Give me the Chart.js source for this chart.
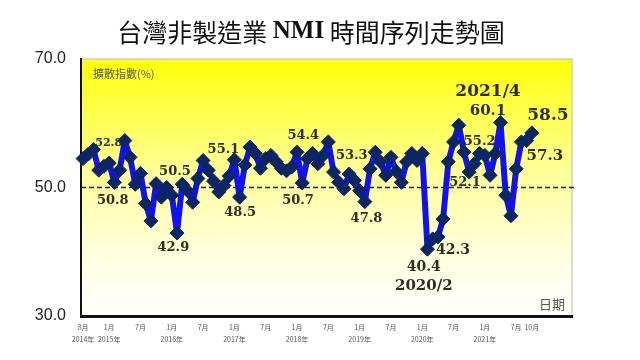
<!DOCTYPE html>
<html>
<head>
<meta charset="utf-8">
<script src="https://cdn.jsdelivr.net/npm/chart.js@4/dist/chart.umd.min.js"></script>
<style>
html,body{margin:0;padding:0;background:#fff;}
#wrap{width:640px;height:360px;position:relative;}
</style>
</head>
<body>
<div id="wrap"><canvas id="c" width="640" height="360"></canvas></div>
<script>
// ---- data (monthly NMI, 2014/8 .. 2021/10) ----
const startYear = 2014, startMonth = 8;
const nmiValues = [
  54.5,55.2,55.9,52.7,53.3,53.8,50.8,52.7,57.3,54.7,
  50.5,52.2,47.5,44.8,50.6,48.5,50.0,48.8,42.9,50.5,
  49.5,47.7,51.4,54.2,52.7,51.0,49.3,50.3,51.8,54.3,
  48.5,53.5,56.3,55.3,53.0,54.5,55.0,54.0,53.0,52.6,
  53.2,55.5,50.7,54.5,55.3,53.7,55.0,57.1,52.4,50.8,
  49.8,52.1,51.1,49.5,47.8,52.9,55.5,54.0,51.9,54.7,
  52.5,50.8,54.0,55.3,54.2,55.3,40.4,42.0,42.3,45.1,
  54.0,57.1,59.7,55.5,52.4,53.7,55.3,55.0,51.9,55.3,
  60.1,48.8,45.6,52.9,57.1,57.3,58.5
];
const months = nmiValues.map((v, i) => {
  const m = startMonth - 1 + i;
  return (startYear + Math.floor(m / 12)) + '/' + (m % 12 + 1);
});

// x tick labels (month index, month text, year text)
const tickIndex = [0,5,11,17,23,29,35,41,47,53,59,65,71,77,83,86];
const tickMonth = ['8月','1月','7月','1月','7月','1月','7月','1月','7月','1月','7月','1月','7月','1月','7月','10月'];
const tickYear  = ['2014年','2015年','','2016年','','2017年','','2018年','','2019年','','2020年','','2021年','',''];

// y ticks
const yMin = 30, yMax = 70, yStep = 20, refLine = 50;

// annotation texts and where they sit (month index, value units)
const noteText = ['52.8','50.8','50.5','42.9','55.1','48.5','54.4','50.7','53.3','47.8','40.4','2020/2','42.3','52.1','55.2','2021/4','60.1','58.5','57.3'];
const noteX    = [4.9,5.7,17.6,17.3,26.9,30.1,42.2,41.2,51.5,54.3,65.3,65.3,70.9,73.2,76.0,77.6,77.6,89.1,88.5];
const noteY    = [56.9,48.0,52.4,40.7,55.9,46.1,58.1,48.0,55.0,45.1,37.5,34.7,40.2,50.8,57.1,64.9,61.9,61.2,54.9];
const noteSize = [11,13,13,13,13,13,13,13,13,13,14,15,14,13,13,17,15,17,15];

const titleParts = ['台灣非製造業 ', 'NMI', ' 時間序列走勢圖'];

const points = nmiValues.map((v, i) => ({x: i, y: v}));

const decor = {
  id: 'decor',
  beforeDraw(chart) {
    const {ctx, chartArea: a} = chart;
    const g = ctx.createLinearGradient(0, a.top, 0, a.bottom);
    g.addColorStop(0, '#FFFF08');
    g.addColorStop(0.45, '#FFFF9C');
    g.addColorStop(0.8, '#FFFFE6');
    g.addColorStop(1, '#FFFFFF');
    ctx.save();
    ctx.fillStyle = g;
    ctx.fillRect(a.left, a.top, a.right - a.left, a.bottom - a.top);
    ctx.strokeStyle = '#d0d0c0';
    ctx.lineWidth = 1.5;
    ctx.beginPath();
    ctx.moveTo(a.left, a.top); ctx.lineTo(a.right, a.top); ctx.lineTo(a.right, a.bottom);
    ctx.stroke();
    const fonts = ['25px "Noto Sans CJK TC"', 'bold 25px "Liberation Serif"', '25px "Noto Sans CJK TC"'];
    let w = 0;
    const ws = titleParts.map((t, k) => { ctx.font = fonts[k]; const m = ctx.measureText(t).width; w += m; return m; });
    let x = 311 - w / 2;
    ctx.fillStyle = '#111';
    ctx.textBaseline = 'middle';
    titleParts.forEach((t, k) => { ctx.font = fonts[k]; ctx.fillText(t, x, 32); x += ws[k]; });
    ctx.restore();
  },
  beforeDatasetsDraw(chart) {
    const {ctx, chartArea: a, scales: {y}} = chart;
    const py = y.getPixelForValue(refLine);
    ctx.save();
    ctx.strokeStyle = '#222';
    ctx.lineWidth = 1.5;
    ctx.setLineDash([5, 3]);
    ctx.beginPath();
    ctx.moveTo(a.left, py); ctx.lineTo(a.right + 3, py);
    ctx.stroke();
    ctx.setLineDash([]);
    ctx.fillStyle = '#555';
    ctx.font = '11px "Noto Sans CJK TC"';
    ctx.textBaseline = 'middle';
    ctx.textAlign = 'left';
    ctx.fillText('擴散指數(%)', a.left + 12, a.top + 15);
    ctx.font = '13px "Noto Sans CJK TC"';
    ctx.textAlign = 'right';
    ctx.fillText('日期', a.right - 7, a.bottom - 12);
    ctx.restore();
  },
  afterDatasetsDraw(chart) {
    const {ctx, scales: {x, y}} = chart;
    ctx.save();
    ctx.fillStyle = '#2e2e1e';
    ctx.textAlign = 'center';
    ctx.textBaseline = 'middle';
    noteText.forEach((t, k) => {
      ctx.font = 'bold ' + noteSize[k] + 'px "DejaVu Serif"';
      ctx.fillText(t, x.getPixelForValue(noteX[k]), y.getPixelForValue(noteY[k]));
    });
    ctx.restore();
  }
};

new Chart(document.getElementById('c'), {
  type: 'line',
  data: {
    labels: months,
    datasets: [{
      label: 'NMI',
      data: points,
      borderColor: '#1212F0',
      borderWidth: 6,
      borderJoinStyle: 'round',
      tension: 0,
      pointStyle: 'rectRot',
      pointRadius: 7,
      pointBackgroundColor: '#0B2565',
      pointBorderColor: '#0B2565',
      pointBorderWidth: 1,
      clip: false
    }]
  },
  options: {
    responsive: false,
    animation: false,
    devicePixelRatio: 1,
    layout: {padding: {top: 59, right: 68, left: 0, bottom: 0}},
    plugins: {legend: {display: false}, tooltip: {enabled: false}, title: {display: false}},
    scales: {
      x: {
        type: 'linear',
        min: -0.4,
        max: 93.7,
        afterFit(s) { s.height = 44; },
        afterBuildTicks(s) { s.ticks = tickIndex.map(v => ({value: v})); },
        grid: {display: false, drawTicks: false},
        border: {display: true, color: '#111', width: 3},
        ticks: {
          autoSkip: false,
          maxRotation: 0,
          padding: 5,
          color: '#555',
          font: {size: 7, family: '"Noto Sans CJK TC"', lineHeight: 1.7},
          callback(v) {
            const k = tickIndex.indexOf(v);
            return k < 0 ? '' : [tickMonth[k], tickYear[k]];
          }
        }
      },
      y: {
        min: yMin,
        max: yMax,
        afterFit(s) { s.width = 81; },
        grid: {display: false, drawTicks: false},
        border: {display: true, color: '#111', width: 2},
        ticks: {
          stepSize: yStep,
          padding: 15,
          color: '#222',
          font: {size: 16, family: '"Liberation Sans"'},
          callback(v) { return v.toFixed(1); }
        }
      }
    }
  },
  plugins: [decor]
});
</script>
</body>
</html>
